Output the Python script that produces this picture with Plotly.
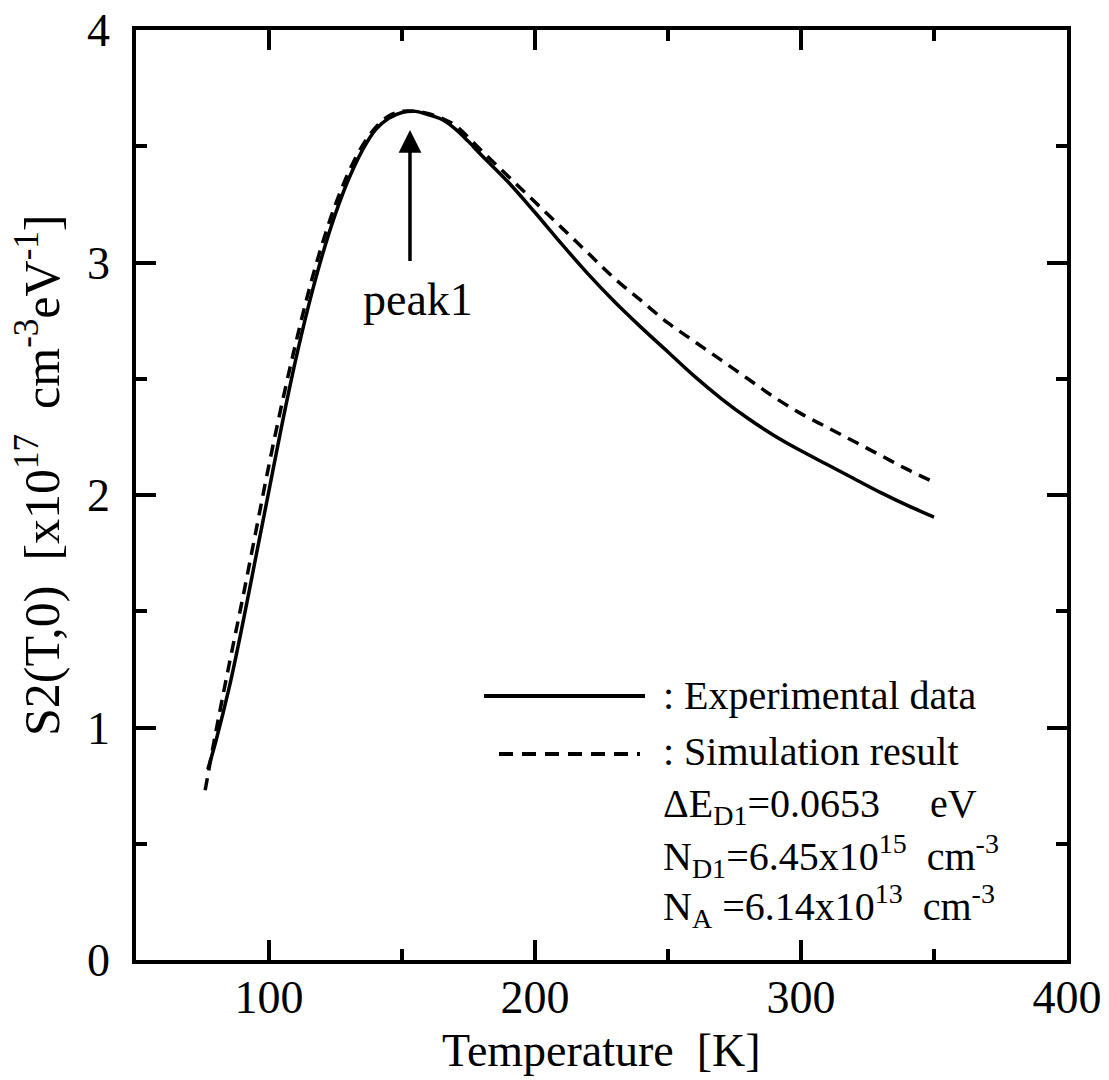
import plotly.graph_objects as go

# ---- data ----
T_exp = [77, 80, 85, 90, 95, 100, 105, 110, 115, 120, 125, 130, 135, 140, 145, 150, 155,
         160, 165, 170, 175, 180, 190, 200, 210, 220, 230, 240, 250, 260, 270, 280, 290, 300,
         310, 320, 330, 340, 350]
S_exp = [0.82, 0.94, 1.17, 1.44, 1.73, 2.02, 2.31, 2.58, 2.82, 3.03, 3.21, 3.36, 3.48, 3.57,
         3.62, 3.645, 3.65, 3.635, 3.615, 3.575, 3.52, 3.46, 3.345, 3.215, 3.08, 2.95, 2.83,
         2.72, 2.615, 2.51, 2.415, 2.33, 2.255, 2.19, 2.13, 2.07, 2.01, 1.955, 1.905]

T_sim = [76, 80, 85, 90, 95, 100, 105, 110, 115, 120, 125, 130, 135, 140, 145, 150, 155,
         160, 165, 170, 180, 190, 200, 210, 220, 230, 240, 250, 260, 270, 280, 290, 300,
         310, 320, 330, 340, 350]
S_sim = [0.73, 0.98, 1.27, 1.55, 1.84, 2.13, 2.40, 2.65, 2.88, 3.08, 3.25, 3.39, 3.50, 3.58,
         3.63, 3.65, 3.65, 3.64, 3.62, 3.59, 3.48, 3.37, 3.26, 3.15, 3.04, 2.93, 2.835, 2.74,
         2.66, 2.58, 2.50, 2.42, 2.35, 2.29, 2.23, 2.17, 2.11, 2.055]

peak_T = 153
peak_tip = 3.57
peak_tail = 3.0

x_ticks = [100, 200, 300, 400]
y_ticks = [0, 1, 2, 3, 4]

FONT = "Liberation Serif"
W, H = 1109, 1080
ML, MR, MT, MB = 136, 42, 30, 120
PW, PH = W - ML - MR, H - MT - MB


def px_x(p):
    return (p - ML) / PW


def px_y(p):
    return (H - MB - p) / PH


fig = go.Figure()
fig.add_trace(go.Scatter(x=T_exp, y=S_exp, mode="lines", line=dict(color="black", width=3.5, shape="spline"),
                         name="Experimental data", showlegend=False))
fig.add_trace(go.Scatter(x=T_sim, y=S_sim, mode="lines",
                         line=dict(color="black", width=3.5, dash="12px,8px", shape="spline"),
                         name="Simulation result", showlegend=False))

axis_common = dict(
    showgrid=False, zeroline=False, showline=True, linecolor="black", linewidth=3.5,
    mirror="ticks", ticks="inside", ticklen=20, tickwidth=3.5, tickcolor="black",
    tickfont=dict(family=FONT, size=46, color="black"), automargin=False,
)

fig.update_xaxes(range=[50, 400], tickmode="array", tickvals=x_ticks,
                 ticktext=[str(v) for v in x_ticks],
                 minor=dict(dtick=50, tick0=0, ticks="inside", ticklen=11, tickwidth=3.5, tickcolor="black"),
                 ticklabelstandoff=-6,
                 **axis_common)
fig.update_yaxes(range=[0, 4], tickmode="array", tickvals=y_ticks,
                 ticktext=[str(v) for v in y_ticks],
                 minor=dict(dtick=0.5, tick0=0, ticks="inside", ticklen=11, tickwidth=3.5, tickcolor="black"),
                 ticklabelstandoff=13,
                 **axis_common)

annots = []
# axis titles
annots.append(dict(text="Temperature\u00a0\u00a0[K]", xref="paper", yref="paper",
                   x=0.5, y=px_y(1050), showarrow=False, xanchor="center", yanchor="middle",
                   font=dict(family=FONT, size=46, color="black")))
annots.append(dict(text="S2(T,0)\u00a0\u00a0[x10<sup>17</sup>\u00a0\u00a0cm<sup>-3</sup>eV<sup>-1</sup>]",
                   xref="paper", yref="paper", x=px_x(38), y=px_y(476), textangle=-90,
                   showarrow=False, xanchor="center", yanchor="middle",
                   font=dict(family=FONT, size=50, color="black")))
# peak arrow
annots.append(dict(x=peak_T, y=peak_tip, ax=peak_T, ay=peak_tail, xref="x", yref="y",
                   axref="x", ayref="y", showarrow=True, arrowhead=2, arrowsize=1.3,
                   arrowwidth=3.5, arrowcolor="black", text=""))
annots.append(dict(x=156, y=2.84, xref="x", yref="y", text="peak1", showarrow=False,
                   xanchor="center", yanchor="middle", font=dict(family=FONT, size=46, color="black")))

# legend-like texts
txt_font = dict(family=FONT, size=40, color="black")
lines = [
    (": Experimental data", 695),
    (": Simulation result", 751),
    ("\u0394E<sub>D1</sub>=0.0653\u00a0\u00a0\u00a0\u00a0\u00a0eV", 806),
    ("N<sub>D1</sub>=6.45x10<sup>15</sup>\u00a0\u00a0cm<sup>-3</sup>", 856),
    ("N<sub>A</sub>\u00a0=6.14x10<sup>13</sup>\u00a0\u00a0cm<sup>-3</sup>", 906),
]
for t, yp in lines:
    annots.append(dict(text=t, xref="paper", yref="paper", x=px_x(661), y=px_y(yp),
                       xanchor="left", yanchor="middle", showarrow=False, font=txt_font))

shapes = [
    dict(type="line", xref="paper", yref="paper", x0=px_x(484), x1=px_x(645), y0=px_y(696), y1=px_y(696),
         line=dict(color="black", width=4)),
    dict(type="line", xref="paper", yref="paper", x0=px_x(499), x1=px_x(640), y0=px_y(754), y1=px_y(754),
         line=dict(color="black", width=4, dash="14px,9px")),
]

fig.update_layout(
    width=W, height=H, margin=dict(l=ML, r=MR, t=MT, b=MB, autoexpand=False),
    paper_bgcolor="white", plot_bgcolor="white",
    annotations=annots, shapes=shapes, showlegend=False,
    font=dict(family=FONT, color="black"),
)

fig.write_html("out.html", config={"displayModeBar": False},
               post_script="document.body.style.margin='0';document.body.style.overflow='hidden';")
